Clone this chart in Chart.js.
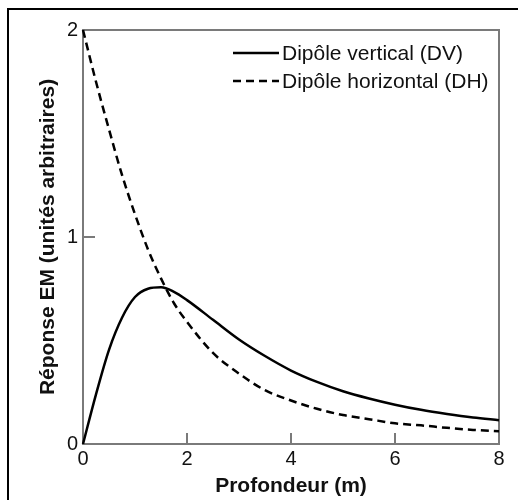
<!DOCTYPE html>
<html lang="fr">
<head>
<meta charset="UTF-8" />
<title>Réponse EM</title>
<script src="https://cdn.jsdelivr.net/npm/chart.js"></script>
<style>
  html, body { margin: 0; padding: 0; background: #fff; overflow: hidden; }
  #frame { position: absolute; left: 7px; top: 8px; width: 600px; height: 600px; border: 2px solid #000; box-sizing: border-box; }
  #wrap { position: absolute; left: 0; top: 0; width: 518px; height: 500px; }
</style>
</head>
<body>
<div id="frame"></div>
<div id="wrap"><canvas id="chart" width="518" height="500"></canvas></div>
<script>
// depth (m) and responses
const depths   = [0, 0.25, 0.5, 0.75, 1, 1.25, 1.5, 1.75, 2, 2.5, 3, 3.5, 4, 4.5, 5, 5.5, 6, 6.5, 7, 7.5, 8];
const dvValues = [0, 0.24, 0.455, 0.61, 0.71, 0.75, 0.757, 0.735, 0.695, 0.60, 0.505, 0.425, 0.355, 0.30, 0.255, 0.22, 0.19, 0.165, 0.145, 0.128, 0.115];
const dhValues = [2, 1.75, 1.52, 1.30, 1.11, 0.94, 0.80, 0.68, 0.59, 0.44, 0.34, 0.26, 0.21, 0.17, 0.14, 0.12, 0.10, 0.09, 0.078, 0.068, 0.062];
const seriesLabels = ["Dipôle vertical (DV)", "Dipôle horizontal (DH)"];
const xTicks = [0, 2, 4, 6, 8];
const yTicks = [0, 1, 2];

const FONT = "'Liberation Sans', Arial, Helvetica, sans-serif";
const AXIS_GREY = "#7a7a7a";

const toPoints = (ys) => depths.map((x, i) => ({ x, y: ys[i] }));

// grey box round the plot + small inward ticks
const frameAndTicks = {
  id: "frameAndTicks",
  beforeDatasetsDraw(chart) {
    const { ctx, chartArea: a, scales } = chart;
    ctx.save();
    ctx.strokeStyle = AXIS_GREY;
    ctx.lineWidth = 2;
    ctx.strokeRect(a.left, a.top, a.right - a.left, a.bottom - a.top);
    ctx.beginPath();
    xTicks.slice(1, -1).forEach((v) => {
      const px = scales.x.getPixelForValue(v);
      ctx.moveTo(px, a.bottom);
      ctx.lineTo(px, a.bottom - 11);
    });
    yTicks.slice(1, -1).forEach((v) => {
      const py = scales.y.getPixelForValue(v);
      ctx.moveTo(a.left, py);
      ctx.lineTo(a.left + 12, py);
    });
    ctx.stroke();
    ctx.restore();
  },
};

// legend in the top right corner of the plot
const cornerLegend = {
  id: "cornerLegend",
  afterDatasetsDraw(chart) {
    const { ctx, chartArea: a } = chart;
    ctx.save();
    ctx.font = "21px " + FONT;
    ctx.textBaseline = "middle";
    ctx.textAlign = "left";
    chart.data.datasets.forEach((ds, i) => {
      const y = a.top + 23 + i * 28;
      ctx.strokeStyle = ds.borderColor;
      ctx.lineWidth = ds.borderWidth;
      ctx.setLineDash(ds.borderDash || []);
      ctx.beginPath();
      ctx.moveTo(233, y);
      ctx.lineTo(279, y);
      ctx.stroke();
      ctx.setLineDash([]);
      ctx.fillStyle = "#111";
      ctx.fillText(ds.label, 282, y + 1);
    });
    ctx.restore();
  },
};

new Chart(document.getElementById("chart"), {
  type: "line",
  data: {
    datasets: [
      {
        label: seriesLabels[0],
        data: toPoints(dvValues),
        borderColor: "#000",
        borderWidth: 2.5,
        pointRadius: 0,
        cubicInterpolationMode: "monotone",
        clip: 4,
      },
      {
        label: seriesLabels[1],
        data: toPoints(dhValues),
        borderColor: "#000",
        borderWidth: 2.5,
        borderDash: [8, 5],
        pointRadius: 0,
        cubicInterpolationMode: "monotone",
        clip: 4,
      },
    ],
  },
  options: {
    responsive: false,
    animation: false,
    devicePixelRatio: 1,
    layout: { padding: { top: 30, right: 19, bottom: 0, left: 0 } },
    plugins: { legend: { display: false }, tooltip: { enabled: false } },
    scales: {
      x: {
        type: "linear",
        min: 0,
        max: 8,
        afterBuildTicks: (s) => { s.ticks = xTicks.map((value) => ({ value })); },
        afterFit: (s) => { s.height = 56; },
        grid: { display: false, drawTicks: false },
        border: { display: false },
        ticks: { color: "#111", padding: 3, font: { family: FONT, size: 20 } },
        title: {
          display: true,
          text: "Profondeur (m)",
          color: "#111",
          padding: { top: 0, bottom: 1 },
          font: { family: FONT, size: 21, weight: "bold" },
        },
      },
      y: {
        min: 0,
        max: 2,
        afterBuildTicks: (s) => { s.ticks = yTicks.map((value) => ({ value })); },
        afterFit: (s) => { s.width = 83; },
        grid: { display: false, drawTicks: false },
        border: { display: false },
        ticks: { color: "#111", padding: 5, font: { family: FONT, size: 20 } },
        title: {
          display: true,
          text: "Réponse EM (unités arbitraires)",
          color: "#111",
          padding: { top: 36, bottom: 0 },
          font: { family: FONT, size: 21, weight: "bold" },
        },
      },
    },
  },
  plugins: [frameAndTicks, cornerLegend],
});
</script>
</body>
</html>
